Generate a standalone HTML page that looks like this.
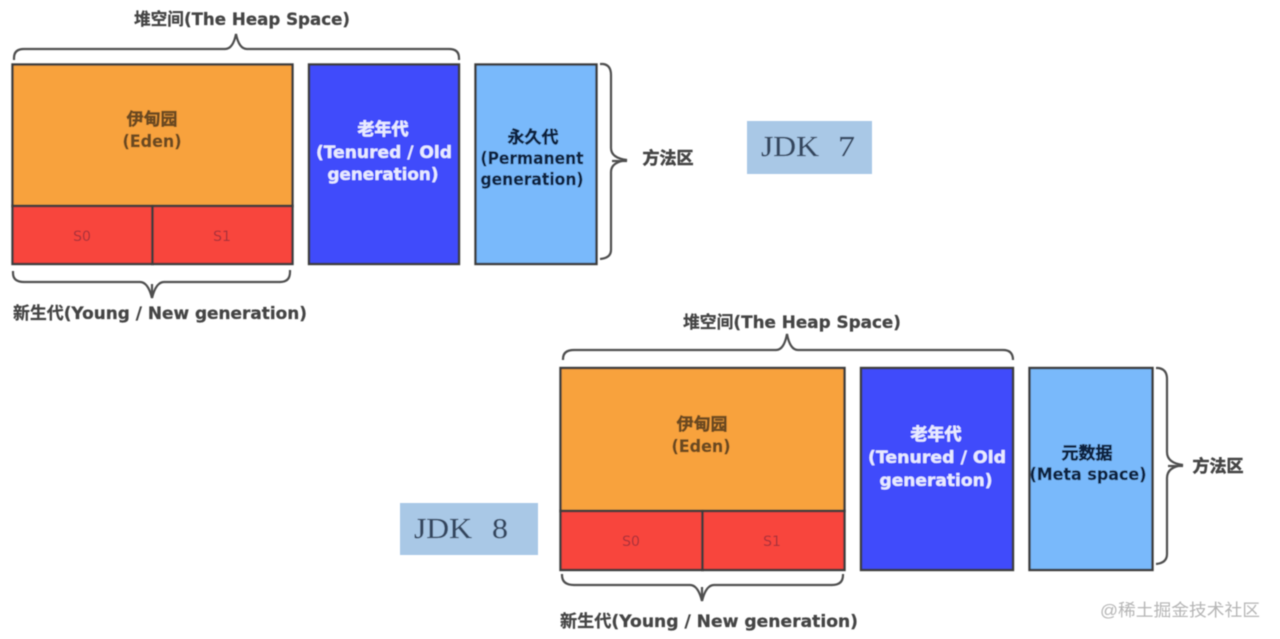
<!DOCTYPE html>
<html><head><meta charset="utf-8">
<style>
html,body{margin:0;padding:0;background:#fff;width:1280px;height:639px;overflow:hidden}
svg{display:block}
text{font-family:"DejaVu Sans","Noto Sans CJK SC",sans-serif;font-weight:bold;text-anchor:middle;font-size:17px;stroke-width:.25;paint-order:stroke}
.c{font-family:"Liberation Sans","Noto Sans CJK SC",sans-serif;font-size:17px;stroke-width:.55}
.g{fill:#444;stroke:#444}
.o{fill:#6b4a22;stroke:#6b4a22}
.w{fill:#e8eaff;stroke:#e8eaff}
.n{fill:#10233f;stroke:#10233f}
.s{fill:#a8333a;font-weight:normal;font-size:14px;stroke:none}
.j{fill:#34465f;font-family:"Liberation Serif",serif;font-weight:normal;font-size:29px;text-anchor:start;stroke:#34465f;stroke-width:.15}
.b{fill:none;stroke:#505050;stroke-width:2.2}
.r{stroke:#3c3c3c;stroke-width:2.4}
</style></head><body>
<svg width="1280" height="639" viewBox="0 0 1280 639" xmlns="http://www.w3.org/2000/svg">
<defs><filter id="s" x="-2%" y="-2%" width="104%" height="104%"><feGaussianBlur stdDeviation="0.6"/></filter></defs>
<rect width="1280" height="639" fill="#fff"/>
<g filter="url(#s)">
<!-- JDK7 -->
<text class="g" x="242" y="25" textLength="216" lengthAdjust="spacingAndGlyphs">堆空间(The Heap Space)</text>
<path class="b" d="M14 60V58Q14 49 24 49H225Q233 49 236 34Q239 49 247 49H449Q459 49 459 58V60"/>
<rect class="r" x="12.5" y="64.5" width="280" height="141.5" fill="#f8a23e"/>
<rect class="r" x="12.5" y="206" width="140" height="58" fill="#f8443e"/>
<rect class="r" x="152.5" y="206" width="140" height="58" fill="#f8443e"/>
<rect class="r" x="309" y="64.5" width="150" height="199.5" fill="#3f4bfb"/>
<rect class="r" x="475.5" y="64.5" width="121" height="199.5" fill="#79b9fb"/>
<text class="c o" x="152" y="125">伊甸园</text>
<text class="o" x="152" y="147" textLength="59" lengthAdjust="spacingAndGlyphs">(Eden)</text>
<text class="s" x="82" y="241">S0</text>
<text class="s" x="222" y="241">S1</text>
<text class="c w" x="383" y="135">老年代</text>
<text class="w" x="384" y="158" textLength="136" lengthAdjust="spacingAndGlyphs">(Tenured / Old</text>
<text class="w" x="383" y="180" textLength="111" lengthAdjust="spacingAndGlyphs">generation)</text>
<text class="c n" x="533" y="143">永久代</text>
<text class="n" x="532" y="164" textLength="103" lengthAdjust="spacingAndGlyphs">(Permanent</text>
<text class="n" x="532" y="185" textLength="103" lengthAdjust="spacingAndGlyphs">generation)</text>
<path class="b" d="M600 64H603Q611 65 611 75V148Q611 158 627 160Q611 162 611 172V250Q611 258 600 259"/>
<path class="b" d="M612 161H627"/>
<text class="c g" x="668" y="164">方法区</text>
<rect x="747" y="121" width="125" height="53" fill="#a9c8e6"/>
<text class="j" x="761" y="156" textLength="58" lengthAdjust="spacingAndGlyphs">JDK</text>
<text class="j" x="838" y="156" textLength="17" lengthAdjust="spacingAndGlyphs">7</text>
<path class="b" d="M13 271V273Q13 282 24 282H140Q148 282 152 298Q156 282 164 282H280Q290 282 290 272V270"/>
<path class="b" d="M152 284V298"/>
<text class="g" x="160" y="319" textLength="294" lengthAdjust="spacingAndGlyphs">新生代(Young / New generation)</text>
<!-- JDK8 -->
<text class="g" x="792" y="328" textLength="218" lengthAdjust="spacingAndGlyphs">堆空间(The Heap Space)</text>
<path class="b" d="M563 360V359Q563 350 574 350H776Q784 350 787 334Q790 350 798 350H1003Q1013 350 1013 360"/>
<rect class="r" x="560.5" y="368" width="284" height="143" fill="#f8a23e"/>
<rect class="r" x="560.5" y="511" width="142" height="59" fill="#f8443e"/>
<rect class="r" x="702.5" y="511" width="142" height="59" fill="#f8443e"/>
<rect class="r" x="861" y="368" width="152" height="202" fill="#3f4bfb"/>
<rect class="r" x="1029.5" y="368" width="123" height="202" fill="#79b9fb"/>
<text class="c o" x="702" y="430">伊甸园</text>
<text class="o" x="701" y="452" textLength="59" lengthAdjust="spacingAndGlyphs">(Eden)</text>
<text class="s" x="631" y="546">S0</text>
<text class="s" x="772" y="546">S1</text>
<text class="c w" x="936" y="440">老年代</text>
<text class="w" x="937" y="463" textLength="138" lengthAdjust="spacingAndGlyphs">(Tenured / Old</text>
<text class="w" x="936" y="486" textLength="113" lengthAdjust="spacingAndGlyphs">generation)</text>
<text class="c n" x="1087" y="459">元数据</text>
<text class="n" x="1088" y="480" textLength="117" lengthAdjust="spacingAndGlyphs">(Meta space)</text>
<path class="b" d="M1156 368H1158Q1167 369 1167 379V452Q1167 463 1183 465Q1167 467 1167 478V554Q1167 563 1156 564"/>
<path class="b" d="M1168 466H1183"/>
<text class="c g" x="1218" y="472">方法区</text>
<rect x="400" y="503" width="138" height="52" fill="#a9c8e6"/>
<text class="j" x="414" y="538" textLength="58" lengthAdjust="spacingAndGlyphs">JDK</text>
<text class="j" x="492" y="538" textLength="16" lengthAdjust="spacingAndGlyphs">8</text>
<path class="b" d="M562 574V575Q562 585 574 585H690Q698 585 702 601Q706 585 714 585H832Q843 585 843 575V574"/>
<path class="b" d="M702 587V601"/>
<text class="g" x="709" y="627" textLength="298" lengthAdjust="spacingAndGlyphs">新生代(Young / New generation)</text>
<text class="c" x="1180" y="616" fill="#b5b5b5" style="font-weight:normal;font-size:17px;stroke:none" textLength="160" lengthAdjust="spacingAndGlyphs">@稀土掘金技术社区</text>
</g>
</svg>
</body></html>
